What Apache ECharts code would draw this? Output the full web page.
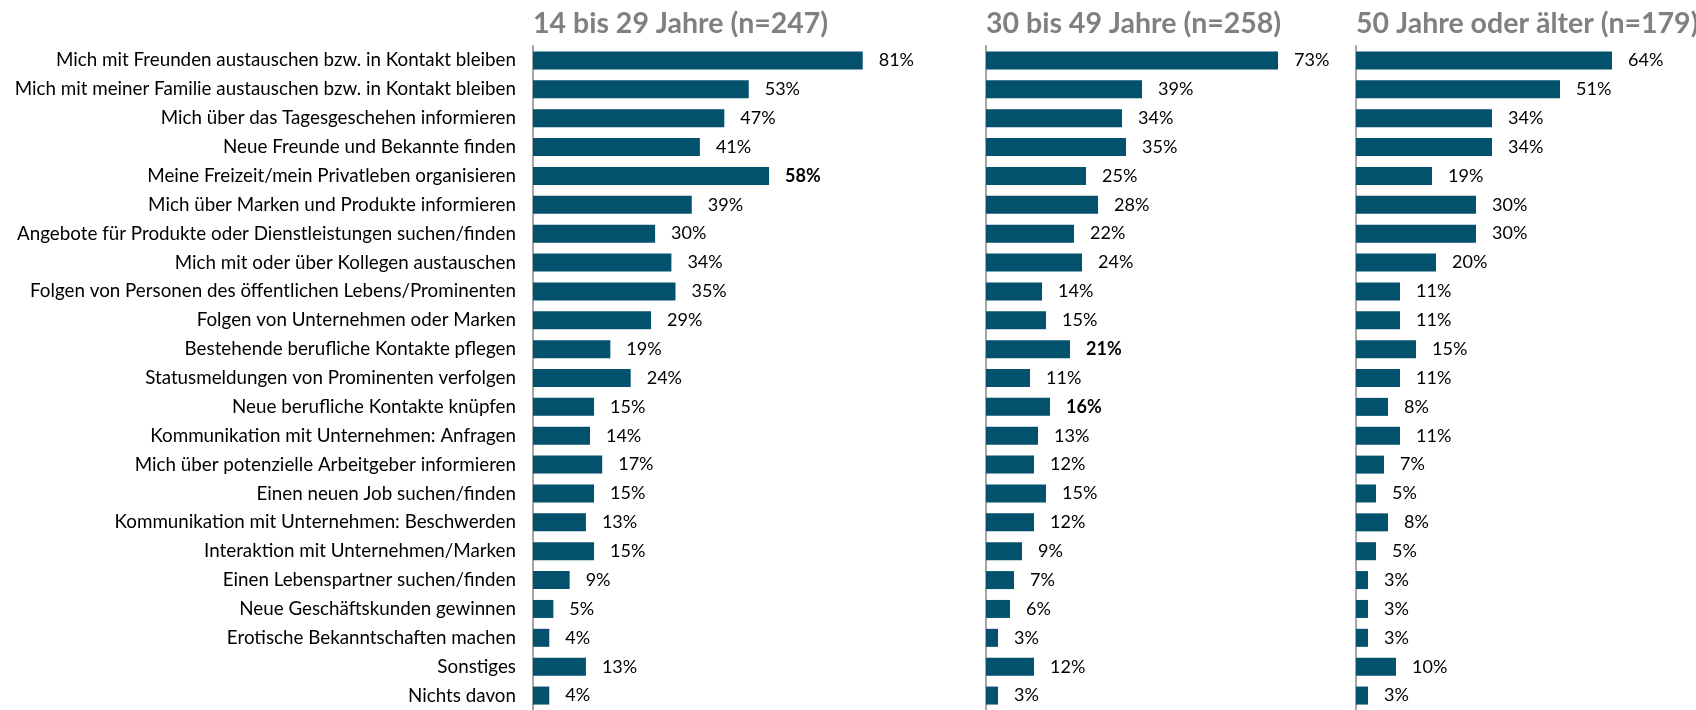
<!DOCTYPE html>
<html>
<head>
<meta charset="utf-8">
<script src="https://cdn.jsdelivr.net/npm/echarts@6/dist/echarts.min.js"></script>
<style>
  html, body { margin: 0; padding: 0; background: #fff; }
  #chart { width: 1696px; height: 710px; }
</style>
</head>
<body>
<div id="chart"></div>
<script>
// Kategorien (von oben nach unten)
const categories = [
  'Mich mit Freunden austauschen bzw. in Kontakt bleiben',
  'Mich mit meiner Familie austauschen bzw. in Kontakt bleiben',
  'Mich über das Tagesgeschehen informieren',
  'Neue Freunde und Bekannte finden',
  'Meine Freizeit/mein Privatleben organisieren',
  'Mich über Marken und Produkte informieren',
  'Angebote für Produkte oder Dienstleistungen suchen/finden',
  'Mich mit oder über Kollegen austauschen',
  'Folgen von Personen des öffentlichen Lebens/Prominenten',
  'Folgen von Unternehmen oder Marken',
  'Bestehende berufliche Kontakte pflegen',
  'Statusmeldungen von Prominenten verfolgen',
  'Neue berufliche Kontakte knüpfen',
  'Kommunikation mit Unternehmen: Anfragen',
  'Mich über potenzielle Arbeitgeber informieren',
  'Einen neuen Job suchen/finden',
  'Kommunikation mit Unternehmen: Beschwerden',
  'Interaktion mit Unternehmen/Marken',
  'Einen Lebenspartner suchen/finden',
  'Neue Geschäftskunden gewinnen',
  'Erotische Bekanntschaften machen',
  'Sonstiges',
  'Nichts davon'
]

const groupTitles = ['14 bis 29 Jahre (n=247)', '30 bis 49 Jahre (n=258)', '50 Jahre oder älter (n=179)']

const age14to29 = [81, 53, 47, 41, 58, 39, 30, 34, 35, 29, 19, 24, 15, 14, 17, 15, 13, 15, 9, 5, 4, 13, 4]
const age30to49 = [73, 39, 34, 35, 25, 28, 22, 24, 14, 15, 21, 11, 16, 13, 12, 15, 12, 9, 7, 6, 3, 12, 3]
const age50plus = [64, 51, 34, 34, 19, 30, 30, 20, 11, 11, 15, 11, 8, 11, 7, 5, 8, 5, 3, 3, 3, 10, 3]

// fett hervorgehobene Werte (Index der Kategorie)
const boldIdx = [[4], [10, 12], []]

const values = [age14to29, age30to49, age50plus]

const FONT = 'Lato'
const BAR_COLOR = '#03516d'
const AXIS_COLOR = '#a6a6a6'

// Positionen der drei Panels
const panelLeft = [533, 986, 1356]
const panelWidth = [346, 340, 340]
const X_MAX = 85

let myChart = echarts.init(document.getElementById('chart'))

let grids = []
let xAxes = []
let yAxes = []
let series = []
let titles = []

values.forEach((vals, i) => {
  grids.push({
    left: panelLeft[i],
    width: panelWidth[i],
    top: 46,
    bottom: 0,
    containLabel: false
  })
  xAxes.push({
    gridIndex: i,
    type: 'value',
    min: 0,
    max: X_MAX,
    show: false
  })
  yAxes.push({
    gridIndex: i,
    type: 'category',
    inverse: true,
    data: categories,
    axisTick: { show: false },
    axisLine: { show: true, lineStyle: { color: AXIS_COLOR, width: 2 } },
    axisLabel: {
      show: i === 0,
      color: '#000',
      fontFamily: FONT,
      fontSize: 18.8,
      margin: 17
    },
    splitLine: { show: false }
  })
  series.push({
    type: 'bar',
    xAxisIndex: i,
    yAxisIndex: i,
    barWidth: 18,
    itemStyle: { color: BAR_COLOR },
    label: {
      show: true,
      position: 'right',
      distance: 16,
      color: '#000',
      fontFamily: FONT,
      fontSize: 18,
      formatter: '{c}%'
    },
    data: vals.map((v, j) => boldIdx[i].includes(j) ? { value: v, label: { fontWeight: 'bold' } } : v)
  })
  titles.push({
    text: groupTitles[i],
    left: panelLeft[i],
    top: 9,
    padding: 0,
    textStyle: {
      color: '#808080',
      fontFamily: FONT,
      fontSize: 28.5,
      fontWeight: 'bold'
    }
  })
})

let option = {
  animation: false,
  title: titles,
  grid: grids,
  xAxis: xAxes,
  yAxis: yAxes,
  series: series
}
myChart.setOption(option, true)
</script>
</body>
</html>
